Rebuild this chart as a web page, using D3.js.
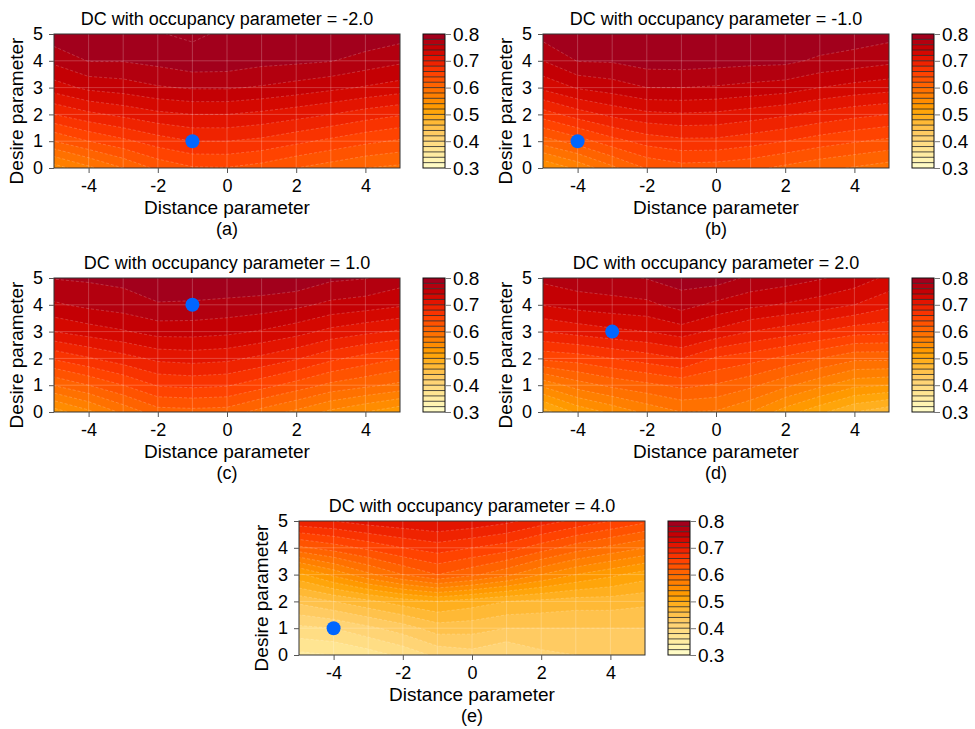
<!DOCTYPE html>
<html><head><meta charset="utf-8">
<script src="https://cdn.jsdelivr.net/npm/d3@7"></script>
<style>body{margin:0;background:#fff} text{font-family:"Liberation Sans",Arial,Helvetica,sans-serif;fill:#000}</style>
</head><body><svg id="c" width="975" height="729" xmlns="http://www.w3.org/2000/svg"></svg>
<script>
// ---- data ----
const distance = [-5,-4,-3,-2,-1,0,1,2,3,4,5];
const desire = [0,1,2,3,4,5];
const occupancy = [-2.0,-1.0,1.0,2.0,4.0];
const panelLabels = ["(a)","(b)","(c)","(d)","(e)"];
const xTicks = [-4,-2,0,2,4];
const yTicks = [0,1,2,3,4,5];
const cbarTicks = [0.3,0.4,0.5,0.6,0.7,0.8];
const levels = [0.30,0.32,0.34,0.36,0.38,0.40,0.42,0.44,0.46,0.48,0.50,0.52,0.54,0.56,0.58,0.60,0.62,0.64,0.66,0.68,0.70,0.72,0.74,0.76,0.78,0.80];
// rows: desire 0..5 ; columns: distance -5..5
const dcA = [
 [0.550,0.575,0.600,0.625,0.638,0.639,0.632,0.620,0.610,0.600,0.595],
 [0.620,0.640,0.655,0.670,0.680,0.680,0.675,0.665,0.655,0.645,0.637],
 [0.680,0.695,0.705,0.715,0.720,0.720,0.715,0.708,0.700,0.690,0.682],
 [0.730,0.745,0.750,0.758,0.762,0.762,0.758,0.752,0.745,0.738,0.731],
 [0.765,0.781,0.781,0.786,0.793,0.792,0.786,0.784,0.781,0.772,0.764],
 [0.793,0.797,0.798,0.799,0.803,0.797,0.796,0.796,0.796,0.795,0.789]
];
const dcB = [
 [0.540,0.565,0.595,0.622,0.632,0.630,0.625,0.615,0.605,0.598,0.590],
 [0.610,0.630,0.652,0.668,0.675,0.675,0.668,0.660,0.650,0.642,0.635],
 [0.670,0.690,0.705,0.715,0.718,0.716,0.710,0.703,0.694,0.686,0.680],
 [0.725,0.742,0.750,0.760,0.760,0.758,0.754,0.750,0.740,0.733,0.728],
 [0.760,0.781,0.782,0.789,0.790,0.788,0.786,0.785,0.776,0.771,0.765],
 [0.788,0.797,0.798,0.799,0.799,0.798,0.798,0.797,0.796,0.792,0.787]
];
const dcC = [
 [0.530,0.555,0.585,0.611,0.613,0.611,0.592,0.575,0.555,0.540,0.525],
 [0.601,0.620,0.640,0.662,0.665,0.662,0.648,0.632,0.615,0.605,0.595],
 [0.663,0.678,0.692,0.705,0.708,0.705,0.695,0.682,0.665,0.652,0.640],
 [0.720,0.730,0.738,0.748,0.748,0.745,0.738,0.728,0.714,0.705,0.697],
 [0.757,0.765,0.770,0.778,0.777,0.774,0.771,0.765,0.755,0.750,0.743],
 [0.781,0.783,0.786,0.797,0.797,0.798,0.797,0.795,0.784,0.781,0.770]
];
const dcD = [
 [0.490,0.525,0.545,0.565,0.580,0.578,0.560,0.530,0.505,0.480,0.465],
 [0.565,0.590,0.605,0.615,0.625,0.618,0.605,0.585,0.565,0.545,0.540],
 [0.645,0.650,0.660,0.670,0.680,0.657,0.648,0.635,0.620,0.605,0.605],
 [0.700,0.708,0.715,0.720,0.730,0.715,0.700,0.690,0.680,0.668,0.665],
 [0.741,0.748,0.752,0.755,0.768,0.755,0.745,0.738,0.730,0.720,0.705],
 [0.765,0.772,0.775,0.781,0.790,0.790,0.776,0.770,0.762,0.752,0.735]
];
const dcE = [
 [0.355,0.360,0.370,0.385,0.405,0.412,0.400,0.415,0.420,0.420,0.423],
 [0.395,0.400,0.415,0.430,0.450,0.448,0.440,0.440,0.440,0.440,0.440],
 [0.445,0.460,0.475,0.490,0.500,0.490,0.480,0.475,0.470,0.470,0.465],
 [0.515,0.545,0.575,0.600,0.620,0.605,0.585,0.560,0.540,0.525,0.510],
 [0.615,0.630,0.645,0.660,0.670,0.660,0.650,0.630,0.610,0.595,0.580],
 [0.695,0.700,0.710,0.715,0.720,0.715,0.705,0.690,0.675,0.660,0.645]
];
const dcData = [dcA,dcB,dcC,dcD,dcE];
const markerDistance = [-1,-4,-1,-3,-4];
const markerDesire = [1,1,4,3,1];

// ---- style ----
const bandColors = ["#fffbc5","#fff4b2","#ffeca2","#ffe592","#ffdd84","#ffd475","#ffcb62","#ffc24c","#ffb935","#ffaf1e",
 "#ffa50a","#ff9900","#ff8c00","#ff7f00","#ff7100","#ff6300","#ff5300","#ff4300","#f93300","#ef2300",
 "#e31400","#d40800","#c40004","#b3000f","#a2001c"];
const layout = [{l:54,t:34},{l:543,t:34},{l:54,t:278},{l:543,t:278},{l:299,t:521}];
const PW=346, PH=134;

const svg = d3.select("#c");
svg.append("rect").attr("width",975).attr("height",729).attr("fill","#fff");

dcData.forEach((grid,k)=>{
  const L=layout[k].l, T=layout[k].t;
  const x=d3.scaleLinear().domain([-5,5]).range([L,L+PW]);
  const y=d3.scaleLinear().domain([0,5]).range([T+PH,T]);
  const g=svg.append("g");
  const cid="clip"+k;
  svg.append("clipPath").attr("id",cid).append("rect").attr("x",L).attr("y",T).attr("width",PW).attr("height",PH);
  const flat=grid.flat();
  const cs=d3.contours().size([distance.length,desire.length]).thresholds(levels)(flat);
  const proj=d3.geoTransform({point(px,py){ this.stream.point(x(px-0.5+distance[0]), y(py-0.5+desire[0])); }});
  const path=d3.geoPath(proj);
  const cg=g.append("g").attr("clip-path",`url(#${cid})`);
  cg.selectAll("path.f").data(cs).join("path").attr("class","f")
    .attr("d",path).attr("fill",(d,i)=>bandColors[Math.min(i,bandColors.length-1)]).attr("stroke","none");
  cg.selectAll("path.l").data(cs.slice(1)).join("path").attr("class","l")
    .attr("d",path).attr("fill","none").attr("stroke","#fff").attr("stroke-opacity",0.28)
    .attr("stroke-width",0.7).attr("stroke-dasharray","3 2");
  // grid lines
  distance.slice(1,-1).forEach(v=>cg.append("line").attr("x1",x(v)).attr("x2",x(v)).attr("y1",T).attr("y2",T+PH)
     .attr("stroke","#fff").attr("stroke-opacity",0.22).attr("stroke-width",1));
  desire.slice(1,-1).forEach(v=>cg.append("line").attr("x1",L).attr("x2",L+PW).attr("y1",y(v)).attr("y2",y(v))
     .attr("stroke","#fff").attr("stroke-opacity",0.22).attr("stroke-width",1));
  // marker
  g.append("circle").attr("cx",x(markerDistance[k])).attr("cy",y(markerDesire[k])).attr("r",7).attr("fill","#0066ff");
  // frame
  g.append("rect").attr("x",L).attr("y",T).attr("width",PW).attr("height",PH).attr("fill","none").attr("stroke","#333").attr("stroke-width",1);
  // axes
  const ax=g.append("g").attr("transform",`translate(0,${T+PH})`)
    .call(d3.axisBottom(x).tickValues(xTicks).tickSize(5).tickSizeOuter(0).tickPadding(6).tickFormat(d=>String(d)));
  ax.select(".domain").remove();
  ax.selectAll("line").attr("stroke","#555");
  ax.selectAll("text").attr("font-size",18).attr("font-family",null);
  const ay=g.append("g").attr("transform",`translate(${L},0)`)
    .call(d3.axisLeft(y).tickValues(yTicks).tickSize(5).tickSizeOuter(0).tickPadding(6).tickFormat(d=>String(d)));
  ay.select(".domain").remove();
  ay.selectAll("line").attr("stroke","#555");
  ay.selectAll("text").attr("font-size",18).attr("font-family",null);
  // labels
  g.append("text").attr("x",L+PW/2).attr("y",T-9).attr("text-anchor","middle").attr("font-size",18)
    .text("DC with occupancy parameter = "+occupancy[k].toFixed(1));
  g.append("text").attr("x",L+PW/2).attr("y",T+PH+46).attr("text-anchor","middle").attr("font-size",19).text("Distance parameter");
  g.append("text").attr("x",L+PW/2).attr("y",T+PH+67).attr("text-anchor","middle").attr("font-size",18).text(panelLabels[k]);
  g.append("text").attr("transform",`translate(${L-31},${T+PH/2+10}) rotate(-90)`).attr("text-anchor","middle").attr("font-size",19).text("Desire parameter");
  // colorbar
  const cx0=L+PW+23, cw=22;
  const cy=d3.scaleLinear().domain([levels[0],levels[levels.length-1]]).range([T+PH,T]);
  const cb=g.append("g");
  bandColors.forEach((c,i)=>cb.append("rect").attr("x",cx0).attr("y",cy(levels[i+1])).attr("width",cw)
     .attr("height",cy(levels[i])-cy(levels[i+1])).attr("fill",c).attr("stroke","none"));
  levels.slice(1,-1).forEach(v=>cb.append("line").attr("x1",cx0).attr("x2",cx0+cw).attr("y1",cy(v)).attr("y2",cy(v))
     .attr("stroke","#222").attr("stroke-width",0.8));
  cb.append("rect").attr("x",cx0).attr("y",T).attr("width",cw).attr("height",PH).attr("fill","none").attr("stroke","#111").attr("stroke-width",1);
  const ac=g.append("g").attr("transform",`translate(${cx0+cw},0)`)
    .call(d3.axisRight(cy).tickValues(cbarTicks).tickSize(6).tickSizeOuter(0).tickPadding(2).tickFormat(d3.format(".1f")));
  ac.select(".domain").remove();
  ac.selectAll("line").attr("stroke","#777");
  ac.selectAll("text").attr("font-size",19).attr("font-family",null);
});
</script></body></html>
